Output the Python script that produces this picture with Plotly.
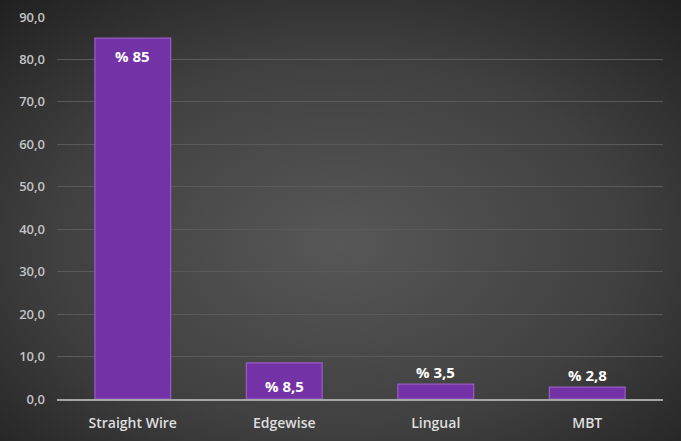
import base64
import plotly.graph_objects as go

# Bracket systems and their share (%)
categories = ["Straight Wire", "Edgewise", "Lingual", "MBT"]
values = [85, 8.5, 3.5, 2.8]
labels = ["% 85", "% 8,5", "% 3,5", "% 2,8"]

W, H = 681, 441
M = dict(l=57, r=18, t=17, b=42)
pw = W - M["l"] - M["r"]
ph = H - M["t"] - M["b"]
PAD = 6  # backdrop overscan in px

# Dark radial-gradient backdrop
svg = f"""<svg xmlns='http://www.w3.org/2000/svg' width='{W}' height='{H}' viewBox='0 0 {W} {H}' preserveAspectRatio='none'>
<defs><radialGradient id='g' cx='50%' cy='55%' r='75%'>
<stop offset='0%' stop-color='#575757'/>
<stop offset='55%' stop-color='#404040'/>
<stop offset='100%' stop-color='#1e1e1e'/>
</radialGradient></defs>
<rect width='{W}' height='{H}' fill='url(#g)'/></svg>"""
bg_src = "data:image/svg+xml;base64," + base64.b64encode(svg.encode()).decode()

FONT = "'Open Sans', Lato, sans-serif"

fig = go.Figure()
fig.add_trace(go.Bar(
    x=categories, y=values, width=0.5,
    marker=dict(color="#7332A6", line=dict(color="#9a5cc8", width=1.2)),
    hoverinfo="skip",
))

label_font = dict(family=FONT, size=15, color="white", weight="bold")
# Label placement: inside near the top for tall bars, centred for medium, above for short
for cat, v, lab in zip(categories, values, labels):
    if v > 50:
        fig.add_annotation(x=cat, y=v, text=lab, showarrow=False,
                           yanchor="top", yshift=-6, font=label_font)
    elif v > 5:
        fig.add_annotation(x=cat, y=v / 2, text=lab, showarrow=False,
                           yanchor="middle", yshift=-5, font=label_font)
    else:
        fig.add_annotation(x=cat, y=v, text=lab, showarrow=False,
                           yanchor="bottom", yshift=0, font=label_font)

fig.update_layout(
    width=W, height=H, margin=M,
    separators=",.",
    paper_bgcolor="#222222", plot_bgcolor="rgba(0,0,0,0)",
    showlegend=False, bargap=0.5,
    images=[dict(source=bg_src, xref="paper", yref="paper",
                 x=-(M["l"] + PAD) / pw, y=1 + (M["t"] + PAD) / ph,
                 sizex=(W + 2 * PAD) / pw, sizey=(H + 2 * PAD) / ph,
                 xanchor="left", yanchor="top", sizing="stretch", layer="below")],
    xaxis=dict(
        showgrid=False, showline=True, linecolor="#a6a6a6", linewidth=2,
        ticks="", ticklabelstandoff=10, automargin=False,
        tickfont=dict(family=FONT, size=14, color="#dedede", weight=600),
    ),
    yaxis=dict(
        range=[0, 90], dtick=10, tickformat=".1f",
        showgrid=True, gridcolor="#5a5a5a", gridwidth=1,
        zeroline=False, showline=False, ticks="", ticklabelstandoff=11,
        automargin=False,
        tickfont=dict(family=FONT, size=13, color="#c4c4c4", weight=600),
    ),
)

fig.write_html("out.html")
